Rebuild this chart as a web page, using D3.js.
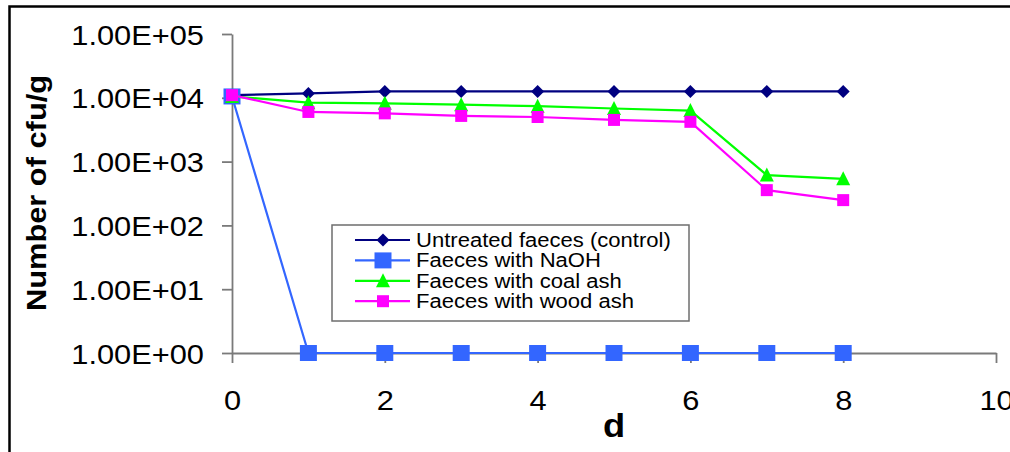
<!DOCTYPE html>
<html>
<head>
<meta charset="utf-8">
<script src="https://cdnjs.cloudflare.com/ajax/libs/d3/7.8.5/d3.min.js"></script>
<style>
body { margin: 0; background: #fff; }
svg { display: block; font-family: "Liberation Sans", Arial, sans-serif; }
</style>
</head>
<body>
<svg width="1010" height="452"></svg>
<script>
// values (cfu/g, log axis)
var days = [0, 1, 2, 3, 4, 5, 6, 7, 8];
var control = [1.1e4, 1.17e4, 1.26e4, 1.26e4, 1.26e4, 1.26e4, 1.26e4, 1.26e4, 1.26e4];
var naoh = [1.05e4, 1, 1, 1, 1, 1, 1, 1, 1];
var coalAsh = [1.05e4, 8.4e3, 8.2e3, 7.8e3, 7.4e3, 6.8e3, 6.3e3, 614, 537];
var woodAsh = [1.1e4, 6.0e3, 5.7e3, 5.2e3, 5.0e3, 4.5e3, 4.2e3, 357, 249];
var seriesNames = ["Untreated faeces (control)", "Faeces with NaOH", "Faeces with coal ash", "Faeces with wood ash"];
var seriesColors = ["#000080", "#3366ff", "#00ff00", "#ff00ff"];
var xTicks = [0, 2, 4, 6, 8, 10];
var yTicks = [1, 10, 100, 1000, 10000, 100000];
var yTickLabels = ["1.00E+00", "1.00E+01", "1.00E+02", "1.00E+03", "1.00E+04", "1.00E+05"];

var svg = d3.select("svg"),
    width = +svg.attr("width"),
    height = +svg.attr("height");

var margin = {top: 34, right: 14, bottom: 99, left: 232};

var x = d3.scaleLinear().domain([0, 10]).range([margin.left, width - margin.right]);
var y = d3.scaleLog().domain([1, 1e5]).range([height - margin.bottom, margin.top]);

// outer chart border (runs off the right and bottom edges)
svg.append("rect")
    .attr("x", 9.5).attr("y", 6.5)
    .attr("width", 1200).attr("height", 600)
    .attr("fill", "none").attr("stroke", "#000").attr("stroke-width", 2.5);

var yAxis = svg.append("g")
    .attr("transform", "translate(" + margin.left + ",0)")
    .call(d3.axisLeft(y).tickValues(yTicks).tickSize(10).tickSizeOuter(0).tickPadding(18)
        .tickFormat(function(d, i) { return yTickLabels[i]; }));

var xAxis = svg.append("g")
    .attr("transform", "translate(0," + y(1) + ")")
    .call(d3.axisBottom(x).tickValues(xTicks).tickSize(10).tickSizeOuter(0));

svg.selectAll(".domain, .tick line").attr("stroke", "#7a7a7a").attr("stroke-width", 1.8);
yAxis.selectAll("text").attr("font-size", 28).attr("fill", "#000").attr("dy", "0.36em");
xAxis.selectAll("text").attr("font-size", 28).attr("fill", "#000").attr("y", 0).attr("dy", 57);

svg.append("text")
    .attr("class", "title")
    .attr("transform", "translate(46,193) rotate(-90)")
    .attr("text-anchor", "middle")
    .attr("font-size", 28).attr("font-weight", "bold")
    .text("Number of cfu/g");

svg.append("text")
    .attr("class", "title")
    .attr("x", (x(0) + x(10)) / 2).attr("y", 437)
    .attr("text-anchor", "middle")
    .attr("font-size", 33).attr("font-weight", "bold")
    .text("d");

// marker shapes
function diamond(s) { return "M0," + (-s) + "L" + s + ",0L0," + s + "L" + (-s) + ",0Z"; }
function square(w, h) { return "M" + (-w / 2) + "," + (-h / 2) + "h" + w + "v" + h + "h" + (-w) + "Z"; }
function triangle(w, h) { return "M0," + (-h / 2 - 1) + "L" + (w / 2) + "," + (h / 2) + "L" + (-w / 2) + "," + (h / 2) + "Z"; }
var markers = [diamond(6.5), square(17, 16), triangle(14, 13), square(12, 12)];

var series = [control, naoh, coalAsh, woodAsh];

var line = d3.line()
    .x(function(d) { return x(d.day); })
    .y(function(d) { return y(d.value); });

series.forEach(function(vals, i) {
    var pts = days.map(function(d, j) { return {day: d, value: vals[j]}; });
    var g = svg.append("g");
    g.append("path")
        .datum(pts)
        .attr("d", line)
        .attr("fill", "none")
        .attr("stroke", seriesColors[i])
        .attr("stroke-width", 2.2);
    g.selectAll("path.mk")
        .data(pts)
        .enter().append("path")
        .attr("class", "mk")
        .attr("d", markers[i])
        .attr("fill", seriesColors[i])
        .attr("transform", function(d) { return "translate(" + x(d.day) + "," + y(d.value) + ")"; });
});

// legend
var legend = svg.append("g");
legend.append("rect")
    .attr("x", 332).attr("y", 225)
    .attr("width", 357).attr("height", 96)
    .attr("fill", "#fff").attr("stroke", "#6e6e6e").attr("stroke-width", 1.5);

var item = legend.selectAll(".item")
    .data(seriesNames)
    .enter().append("g")
    .attr("class", "item")
    .attr("transform", function(d, i) { return "translate(0," + (240 + i * 20.4) + ")"; });

item.append("line")
    .attr("x1", 355).attr("x2", 410)
    .attr("stroke", function(d, i) { return seriesColors[i]; })
    .attr("stroke-width", 2.2);
item.append("path")
    .attr("d", function(d, i) { return markers[i]; })
    .attr("fill", function(d, i) { return seriesColors[i]; })
    .attr("transform", "translate(383,0)");
item.append("text")
    .attr("class", "leg")
    .attr("x", 416).attr("y", 7)
    .attr("font-size", 19.5)
    .text(function(d) { return d; });

// the original is rendered slightly wide: stretch every text horizontally
svg.selectAll("text").each(function() {
    var w = this.getComputedTextLength();
    var k = d3.select(this).classed("leg") ? 1.13 : 1.1;
    d3.select(this).attr("textLength", w * k).attr("lengthAdjust", "spacingAndGlyphs");
});
</script>
</body>
</html>
